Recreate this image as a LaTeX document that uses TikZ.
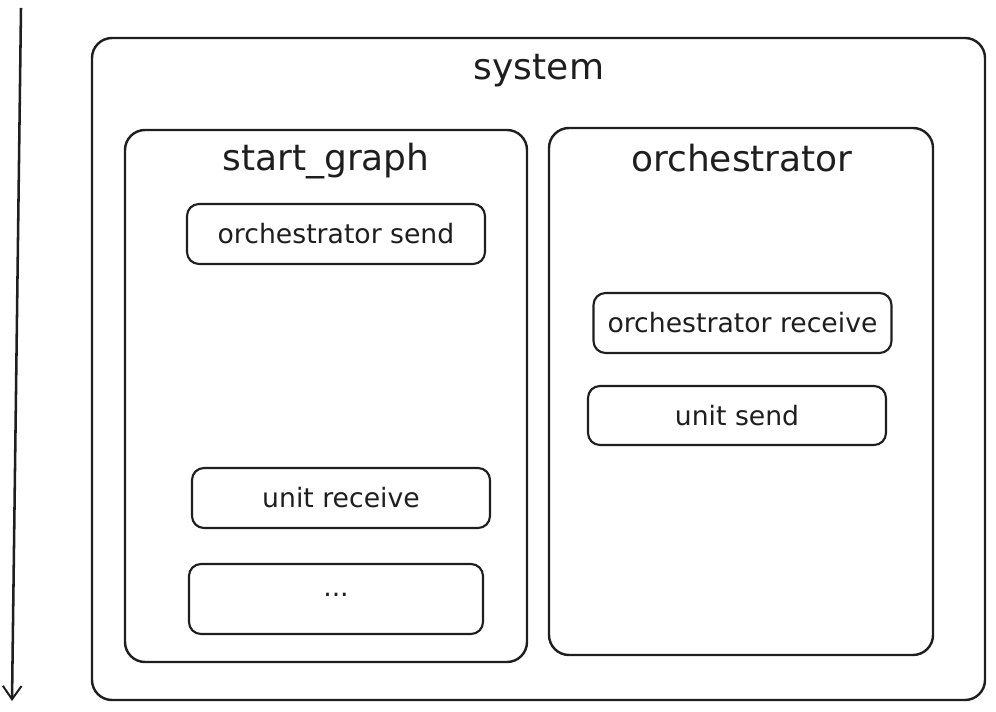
\documentclass[tikz,border=0pt]{standalone}
\usepackage{fontspec}
\setmainfont{DejaVu Sans}
\usetikzlibrary{arrows.meta}
\definecolor{ink}{HTML}{1E1E1E}
\begin{document}
\begin{tikzpicture}[x=0.75pt,y=-0.75pt,
  bigbox/.style={draw=ink,line width=1.8pt,rounded corners=15pt,rectangle,inner sep=0pt},
  smallbox/.style={draw=ink,line width=1.6pt,rounded corners=9pt,rectangle,inner sep=0pt,
    minimum width=223.5pt,minimum height=45pt,font=\fontsize{20}{24}\selectfont,text=ink},
  title/.style={font=\fontsize{27}{32}\selectfont,text=ink,inner sep=0pt},
  timeline/.style={draw=ink,line width=1.9pt,-{Straight Barb[length=10pt,width=14pt,line width=1.5pt]}}]
\useasboundingbox (0,0) rectangle (996,712);
% outer system box
\node[bigbox,minimum width=669.75pt,minimum height=496.5pt] (system) at (538.5,369) {};
\node[title] (systemtitle) at (539,71) {system};
% start_graph box
\node[bigbox,minimum width=301.5pt,minimum height=399pt] (startgraph) at (326,396) {};
\node[title] (sgtitle) at (326,161) {start\_graph};
% orchestrator box
\node[bigbox,minimum width=288pt,minimum height=395.25pt] (orch) at (741,391.5) {};
\node[title] (orchtitle) at (742,158) {orchestrator};
% inner boxes
\node[smallbox] (osend) at (336,234) {orchestrator send};
\node[smallbox] (orecv) at (742.5,323) {orchestrator receive};
\node[smallbox,minimum height=44.25pt] (usend) at (737,415.5) {unit send};
\node[smallbox] (urecv) at (341,498) {unit receive};
\node[smallbox,minimum width=220.5pt,minimum height=52.5pt] (dots) at (336,599) {};
\node[font=\fontsize{20}{24}\selectfont,text=ink,inner sep=0pt] (dotstext) at (336,595) {...};
% time arrow
\coordinate (ttop) at (21,8);
\coordinate (tbot) at (12,701);
\draw[timeline] (ttop) -- (tbot);
\end{tikzpicture}
\end{document}
